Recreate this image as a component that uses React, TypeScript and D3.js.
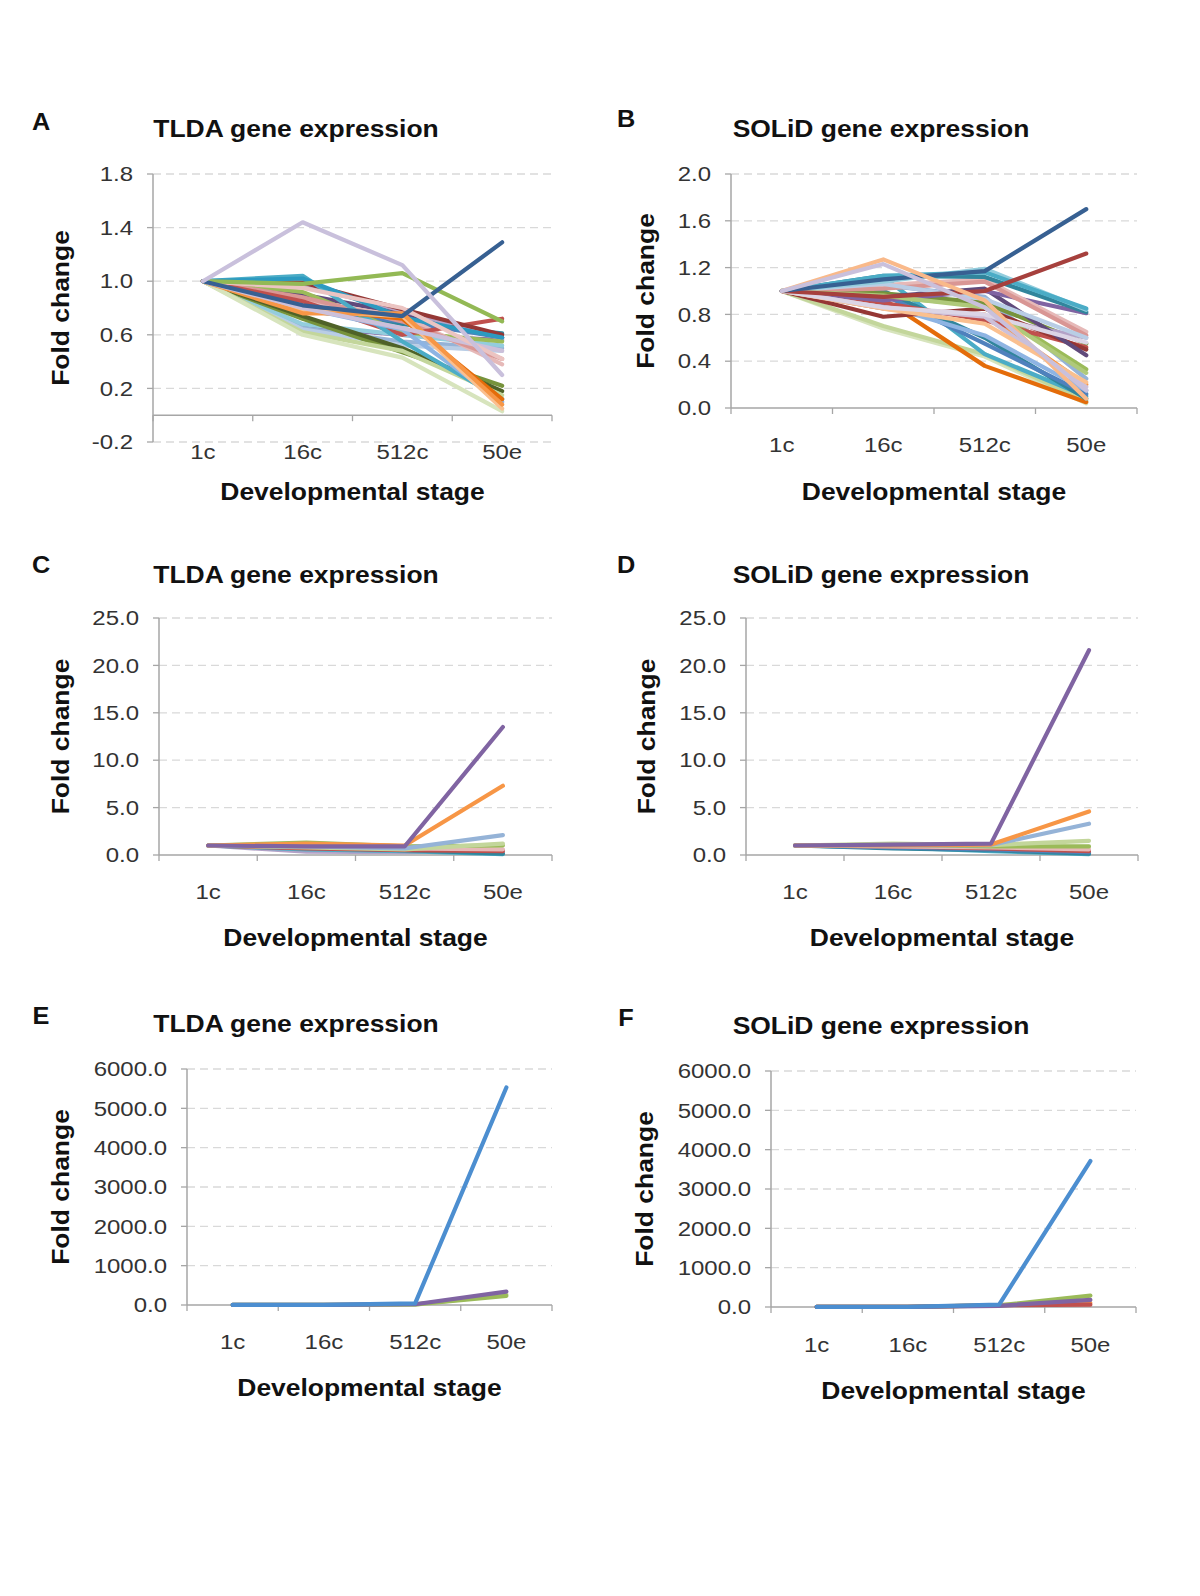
import React from 'react';
import * as d3 from 'd3';

const stages = ['1c', '16c', '512c', '50e'];

const ticksA = [-0.2, 0.2, 0.6, 1.0, 1.4, 1.8];
const ticksB = [0, 0.4, 0.8, 1.2, 1.6, 2.0];
const ticksCD = [0, 5, 10, 15, 20, 25];
const ticksEF = [0, 1000, 2000, 3000, 4000, 5000, 6000];

// Panel A: TLDA fold change (1c, 16c, 512c, 50e)
const seriesA: number[][] = [
  [1, 0.82, 0.68, 0.61],
  [1, 0.9, 0.76, 0.58],
  [1, 0.66, 0.6, 0.56],
  [1, 0.97, 0.78, 0.57],
  [1, 0.78, 0.7, 0.58],
  [1, 0.65, 0.55, 0.5],
  [1, 0.64, 0.52, 0.48],
  [1, 0.68, 0.6, 0.52],
  [1, 0.72, 0.47, 0.22],
  [1, 0.74, 0.5, 0.18],
  [1, 0.62, 0.48, 0.15],
  [1, 0.6, 0.43, 0.03],
  [1, 0.92, 0.62, 0.55],
  [1, 0.85, 0.74, 0.38],
  [1, 0.88, 0.7, 0.42],
  [1, 0.85, 0.6, 0.72],
  [1, 0.99, 0.79, 0.6],
  [1, 1.04, 0.55, 0.12],
  [1, 1.02, 0.73, 0.58],
  [1, 0.8, 0.64, 0.1],
  [1, 0.8, 0.72, 0.12],
  [1, 0.78, 0.74, 0.05],
  [1, 0.76, 0.76, 0.08],
  [1, 0.8, 0.65, 0.48],
  [1, 0.95, 0.8, 0.42],
  [1, 0.98, 1.06, 0.7],
  [1, 0.82, 0.74, 1.29],
  [1, 1.44, 1.12, 0.3],
];
const colorsA = [
  '#31859C', '#604A7B', '#8064A2', '#B3A2C7', '#4F81BD', '#95B3D7', '#B9CDE5',
  '#93CDDD', '#77933C', '#4F6228', '#C3D69B', '#D7E4BD', '#9BBB59', '#E6B9B8',
  '#D99694', '#C0504D', '#953735', '#4BACC6', '#2C9AC0', '#8EB4E3', '#E46C0A',
  '#FAC090', '#F79646', '#CCC0DA', '#EBC4C2', '#93B955', '#376092', '#C9C0DC',
];

// Panel B: SOLiD fold change
const seriesB: number[][] = [
  [1, 0.68, 0.44, 0.04],
  [1, 0.7, 0.46, 0.06],
  [1, 0.93, 0.36, 0.05],
  [1, 1.12, 0.46, 0.1],
  [1, 1.0, 0.6, 0.08],
  [1, 0.97, 0.55, 0.12],
  [1, 0.88, 0.62, 0.15],
  [1, 0.85, 0.8, 0.2],
  [1, 1.05, 0.95, 0.25],
  [1, 0.95, 0.88, 0.33],
  [1, 0.98, 0.9, 0.55],
  [1, 0.85, 0.78, 0.6],
  [1, 0.9, 0.75, 0.52],
  [1, 0.78, 0.85, 0.5],
  [1, 0.95, 1.02, 0.45],
  [1, 0.92, 1.0, 0.81],
  [1, 1.05, 1.1, 0.65],
  [1, 1.02, 1.08, 0.62],
  [1, 1.06, 0.93, 0.6],
  [1, 0.86, 0.78, 0.18],
  [1, 0.85, 0.72, 0.22],
  [1, 0.96, 0.86, 0.3],
  [1, 0.86, 0.8, 0.56],
  [1, 1.13, 1.12, 0.82],
  [1, 1.08, 1.19, 0.84],
  [1, 1.13, 1.16, 0.85],
  [1, 0.95, 1.0, 1.32],
  [1, 1.1, 1.17, 1.7],
  [1, 1.27, 0.92, 0.08],
  [1, 1.23, 0.86, 0.15],
];
const colorsB = [
  '#D7E4BD', '#C3D69B', '#E46C0A', '#4BACC6', '#31859C', '#4F81BD', '#8EB4E3',
  '#F79646', '#95B3D7', '#9BBB59', '#77933C', '#B3A2C7', '#C0504D', '#953735',
  '#604A7B', '#8064A2', '#E6B9B8', '#D99694', '#B9CDE5', '#CCC0DA', '#FAC090',
  '#AFC97A', '#DCD5E6', '#31859C', '#93CDDD', '#4BACC6', '#A6403D', '#376092',
  '#F9B98A', '#C9C0DC',
];

// Panel C: TLDA fold change (high responders)
const seriesC: number[][] = [
  [1, 0.35, 0.3, 0.5],
  [1, 0.6, 0.4, 0.1],
  [1, 0.8, 0.5, 0.15],
  [1, 0.7, 0.5, 0.4],
  [1, 0.9, 0.7, 0.6],
  [1, 1.3, 0.9, 1.0],
  [1, 0.8, 0.6, 1.2],
  [1, 0.9, 0.7, 2.1],
  [1, 1.2, 1.0, 7.3],
  [1, 0.9, 0.9, 13.5],
];
const colorsC = [
  '#B3A2C7', '#4BACC6', '#31859C', '#C0504D', '#E6B9B8', '#9BBB59', '#C3D69B',
  '#95B3D7', '#F79646', '#8064A2',
];

// Panel D: SOLiD fold change (high responders)
const seriesD: number[][] = [
  [1, 0.8, 0.4, 0.1],
  [1, 0.7, 0.5, 0.15],
  [1, 0.8, 0.6, 0.3],
  [1, 0.9, 0.7, 0.4],
  [1, 0.9, 0.8, 0.6],
  [1, 1.1, 0.9, 0.9],
  [1, 1.2, 1.05, 1.5],
  [1, 1.0, 1.05, 3.3],
  [1, 1.0, 1.1, 4.6],
  [1, 1.1, 1.2, 21.6],
];
const colorsD = [
  '#4BACC6', '#31859C', '#4F81BD', '#C0504D', '#E6B9B8', '#9BBB59', '#C3D69B',
  '#95B3D7', '#F79646', '#8064A2',
];

// Panel E: TLDA fold change (very high responders)
const seriesE: number[][] = [
  [1, 1, 10, 270],
  [1, 2, 15, 230],
  [1, 2, 20, 340],
  [1, 3, 40, 5530],
];
const colorsE = ['#C3D69B', '#9BBB59', '#8064A2', '#4C8ED0'];

// Panel F: SOLiD fold change (very high responders)
const seriesF: number[][] = [
  [1, 3, 50, 100],
  [1, 5, 45, 60],
  [1, 3, 40, 290],
  [1, 2, 30, 180],
  [1, 4, 60, 3710],
];
const colorsF = ['#F79646', '#C0504D', '#9BBB59', '#8064A2', '#4C8ED0'];

const FONT = '"Liberation Sans", Arial, Helvetica, sans-serif';

function SText(props: {
  x: number; y: number; size: number; bold?: boolean; anchor?: string;
  rotate?: number; sx?: number; fill?: string; children: React.ReactNode;
}) {
  const { x, y, size, bold, anchor = 'middle', rotate = 0, sx = 1.15, fill = '#111' } = props;
  return (
    <g transform={`translate(${x},${y}) rotate(${rotate}) scale(${sx},1)`}>
      <text
        x={0}
        y={0}
        dy="0.35em"
        fontSize={size}
        fontWeight={bold ? 'bold' : 'normal'}
        fontFamily={FONT}
        textAnchor={anchor}
        fill={fill}
      >
        {props.children}
      </text>
    </g>
  );
}

type PanelDef = {
  letter: string;
  title: string;
  series: number[][];
  colors: string[];
  ticks: number[];
  x0: number; x1: number; yTop: number; yBot: number;
  titleX: number; titleY: number;
  letterX: number; letterY: number;
  foldX: number;
  xLabY: number;
  axTitleY: number;
};

const AXIS = '#A6A6A6';
const GRID = '#D9D9D9';

function Panel({ p }: { p: PanelDef }) {
  const dom = d3.extent(p.ticks) as [number, number];
  const y = d3.scaleLinear().domain(dom).range([p.yBot, p.yTop]);
  const x = d3.scaleBand<string>().domain(stages).range([p.x0, p.x1]).padding(0);
  const bw = x.bandwidth();
  const cx = (s: string) => (x(s) as number) + bw / 2;
  const line = d3
    .line<number>()
    .x((_, i) => cx(stages[i]))
    .y((v) => y(v));
  const y0 = y(0);
  const f1 = d3.format('.1f');
  const fmt = (v: number) => f1(v).replace('\u2212', '-');
  const boundaries = d3.range(stages.length + 1).map((i) => p.x0 + i * bw);
  return (
    <g>
      <SText x={p.letterX} y={p.letterY} size={23} bold sx={1.1}>{p.letter}</SText>
      <SText x={p.titleX} y={p.titleY} size={23} bold>{p.title}</SText>
      {p.ticks.filter((t) => t !== 0).map((t) => (
        <line key={'g' + t} x1={p.x0} x2={p.x1} y1={y(t)} y2={y(t)} stroke={GRID} strokeWidth={1.3} strokeDasharray="8,5" />
      ))}
      {p.ticks.map((t) => (
        <line key={'t' + t} x1={p.x0 - 6} x2={p.x0} y1={y(t)} y2={y(t)} stroke={AXIS} strokeWidth={1.3} />
      ))}
      <line x1={p.x0} x2={p.x0} y1={y(dom[0])} y2={y(dom[1])} stroke={AXIS} strokeWidth={1.5} />
      <line x1={p.x0} x2={p.x1} y1={y0} y2={y0} stroke={AXIS} strokeWidth={1.5} />
      {boundaries.map((bx, i) => (
        <line key={'xt' + i} x1={bx} x2={bx} y1={y0} y2={y0 + 6} stroke={AXIS} strokeWidth={1.3} />
      ))}
      {p.ticks.map((t) => (
        <SText key={'yl' + t} x={p.x0 - 20} y={y(t)} size={20.5} sx={1.17} anchor="end" fill="#333">
          {fmt(t)}
        </SText>
      ))}
      {stages.map((s) => (
        <SText key={'xl' + s} x={cx(s)} y={p.xLabY} size={20.5} sx={1.17} fill="#333">{s}</SText>
      ))}
      <SText x={(p.x0 + p.x1) / 2} y={p.axTitleY} size={23} bold>Developmental stage</SText>
      <SText x={p.foldX} y={(p.yTop + y(dom[0])) / 2} size={23} bold rotate={-90}>Fold change</SText>
      {p.series.map((s, i) => (
        <path
          key={'s' + i}
          d={line(s) || ''}
          fill="none"
          stroke={p.colors[i % p.colors.length]}
          strokeWidth={4.2}
          strokeLinejoin="round"
          strokeLinecap="round"
        />
      ))}
    </g>
  );
}

const panels: PanelDef[] = [
  {
    letter: 'A', title: 'TLDA gene expression', series: seriesA, colors: colorsA, ticks: ticksA,
    x0: 153, x1: 552, yTop: 174, yBot: 442, titleX: 296, titleY: 129, letterX: 41, letterY: 122,
    foldX: 61, xLabY: 452, axTitleY: 492,
  },
  {
    letter: 'B', title: 'SOLiD gene expression', series: seriesB, colors: colorsB, ticks: ticksB,
    x0: 731, x1: 1137, yTop: 174, yBot: 408, titleX: 881, titleY: 129, letterX: 626, letterY: 119,
    foldX: 646, xLabY: 445, axTitleY: 492,
  },
  {
    letter: 'C', title: 'TLDA gene expression', series: seriesC, colors: colorsC, ticks: ticksCD,
    x0: 159, x1: 552, yTop: 618, yBot: 855, titleX: 296, titleY: 575, letterX: 41, letterY: 565,
    foldX: 61, xLabY: 892, axTitleY: 938,
  },
  {
    letter: 'D', title: 'SOLiD gene expression', series: seriesD, colors: colorsD, ticks: ticksCD,
    x0: 746, x1: 1138, yTop: 618, yBot: 855, titleX: 881, titleY: 575, letterX: 626, letterY: 565,
    foldX: 647, xLabY: 892, axTitleY: 938,
  },
  {
    letter: 'E', title: 'TLDA gene expression', series: seriesE, colors: colorsE, ticks: ticksEF,
    x0: 187, x1: 552, yTop: 1069, yBot: 1305, titleX: 296, titleY: 1024, letterX: 41, letterY: 1016,
    foldX: 61, xLabY: 1342, axTitleY: 1388,
  },
  {
    letter: 'F', title: 'SOLiD gene expression', series: seriesF, colors: colorsF, ticks: ticksEF,
    x0: 771, x1: 1136, yTop: 1071, yBot: 1307, titleX: 881, titleY: 1026, letterX: 626, letterY: 1018,
    foldX: 645, xLabY: 1345, axTitleY: 1391,
  },
];

export default function App() {
  return (
    <svg
      width={1200}
      height={1596}
      viewBox="0 0 1200 1596"
      style={{ position: 'absolute', left: 0, top: 0, background: '#fff' }}
    >
      <rect x={0} y={0} width={1200} height={1596} fill="#fff" />
      {panels.map((p) => (
        <Panel key={p.letter} p={p} />
      ))}
    </svg>
  );
}
